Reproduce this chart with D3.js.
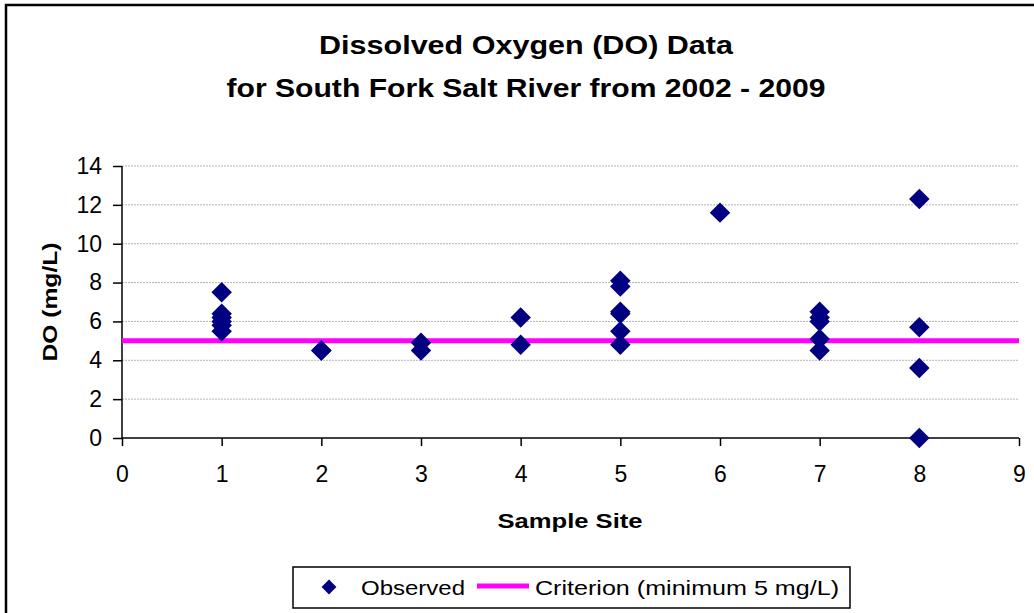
<!DOCTYPE html>
<html>
<head>
<meta charset="utf-8">
<script src="https://cdn.jsdelivr.net/npm/d3@7"></script>
<style>
body{margin:0;background:#fff;}
text{font-family:Arial,"Liberation Sans",sans-serif;}
</style>
</head>
<body>
<svg id="chart" width="1034" height="613"></svg>
<script>
// observed DO per sample site (mg/L)
var siteIds = [1,1,1,1,1,1, 2,2, 3,3, 4,4, 5,5,5,5,5,5, 6, 7,7,7,7,7, 8,8,8,8];
var doValues = [7.5,6.4,6.2,6.0,5.8,5.5, 4.5,4.5, 4.9,4.5, 6.2,4.8, 8.1,7.8,6.5,6.4,5.5,4.8, 11.6, 6.5,6.2,6.0,5.1,4.5, 12.3,5.7,3.6,0.0];
var criterionX = [0,9];
var criterionY = [5,5];
var xTicks = [0,1,2,3,4,5,6,7,8,9];
var yTicks = [0,2,4,6,8,10,12,14];

var svg = d3.select("#chart");
var pLeft=122, pRight=1019, pTop=166, pBottom=438;
var x = d3.scaleLinear().domain([0,9]).range([pLeft,pRight]);
var y = d3.scaleLinear().domain([0,14]).range([pBottom,pTop]);

// outer frame
svg.append("rect").attr("x",6).attr("y",5).attr("width",1040).attr("height",620)
  .attr("fill","none").attr("stroke","#000").attr("stroke-width",2.5);

// title
svg.append("text").attr("x",526).attr("y",54).attr("text-anchor","middle")
  .attr("font-size","26px").attr("font-weight","bold")
  .attr("textLength",414).attr("lengthAdjust","spacingAndGlyphs")
  .text("Dissolved Oxygen (DO) Data");
svg.append("text").attr("x",526).attr("y",97).attr("text-anchor","middle")
  .attr("font-size","26px").attr("font-weight","bold")
  .attr("textLength",599).attr("lengthAdjust","spacingAndGlyphs")
  .text("for South Fork Salt River from 2002 - 2009");

// gridlines
svg.append("g").selectAll("line").data(yTicks.filter(d=>d>0)).enter().append("line")
  .attr("x1",pLeft).attr("x2",pRight).attr("y1",d=>y(d)).attr("y2",d=>y(d))
  .attr("stroke","#b4b4b4").attr("stroke-width",1).attr("stroke-dasharray","2,1");

// axes
var yAxis = svg.append("g").attr("transform","translate("+pLeft+",0)")
  .call(d3.axisLeft(y).tickValues(yTicks).tickSize(9).tickPadding(11).tickFormat(d3.format("d")));
var xAxis = svg.append("g").attr("transform","translate(0,"+pBottom+")")
  .call(d3.axisBottom(x).tickValues(xTicks).tickSize(8).tickPadding(20).tickFormat(d3.format("d")));
[xAxis,yAxis].forEach(function(a){
  a.select(".domain").attr("stroke","#000").attr("stroke-width",1.5);
  a.selectAll(".tick line").attr("stroke","#000").attr("stroke-width",1.5);
  a.selectAll(".tick text").attr("font-size","23px").attr("fill","#000")
    .attr("font-family","Arial, 'Liberation Sans', sans-serif");
});
xAxis.select(".domain").attr("d","M"+pLeft+",0H"+pRight);
yAxis.select(".domain").attr("d","M0,"+pBottom+"V"+pTop);

// axis titles
svg.append("text").attr("x",570).attr("y",528).attr("text-anchor","middle")
  .attr("font-size","21px").attr("font-weight","bold")
  .attr("textLength",145).attr("lengthAdjust","spacingAndGlyphs").text("Sample Site");
svg.append("text").attr("transform","translate(57,302) rotate(-90)")
  .attr("text-anchor","middle").attr("font-size","21px").attr("font-weight","bold")
  .attr("textLength",119).attr("lengthAdjust","spacingAndGlyphs").text("DO (mg/L)");

// criterion line
var line = d3.line().x(d=>x(d[0])).y(d=>y(d[1]));
svg.append("path").datum(criterionX.map((d,i)=>[d,criterionY[i]]))
  .attr("d",line).attr("stroke","#ff00ff").attr("stroke-width",5).attr("fill","none");

// observed points
var diamond = d3.symbol().type(d3.symbolSquare).size(210);
svg.append("g").selectAll("path").data(doValues).enter().append("path")
  .attr("d",diamond)
  .attr("transform",(d,i)=>"translate("+x(siteIds[i])+","+y(d)+") rotate(45)")
  .attr("fill","#000080");

// legend
var lg = svg.append("g");
lg.append("rect").attr("x",293).attr("y",567).attr("width",557).attr("height",41)
  .attr("fill","#fff").attr("stroke","#000").attr("stroke-width",1.5);
lg.append("path").attr("d",d3.symbol().type(d3.symbolSquare).size(110))
  .attr("transform","translate(329,587) rotate(45)").attr("fill","#000080");
lg.append("text").attr("x",361).attr("y",595).attr("font-size","21px")
  .attr("textLength",104).attr("lengthAdjust","spacingAndGlyphs").text("Observed");
lg.append("line").attr("x1",477).attr("x2",529).attr("y1",586).attr("y2",586)
  .attr("stroke","#ff00ff").attr("stroke-width",5);
lg.append("text").attr("x",535).attr("y",595).attr("font-size","21px")
  .attr("textLength",304).attr("lengthAdjust","spacingAndGlyphs").text("Criterion (minimum 5 mg/L)");
</script>
</body>
</html>
